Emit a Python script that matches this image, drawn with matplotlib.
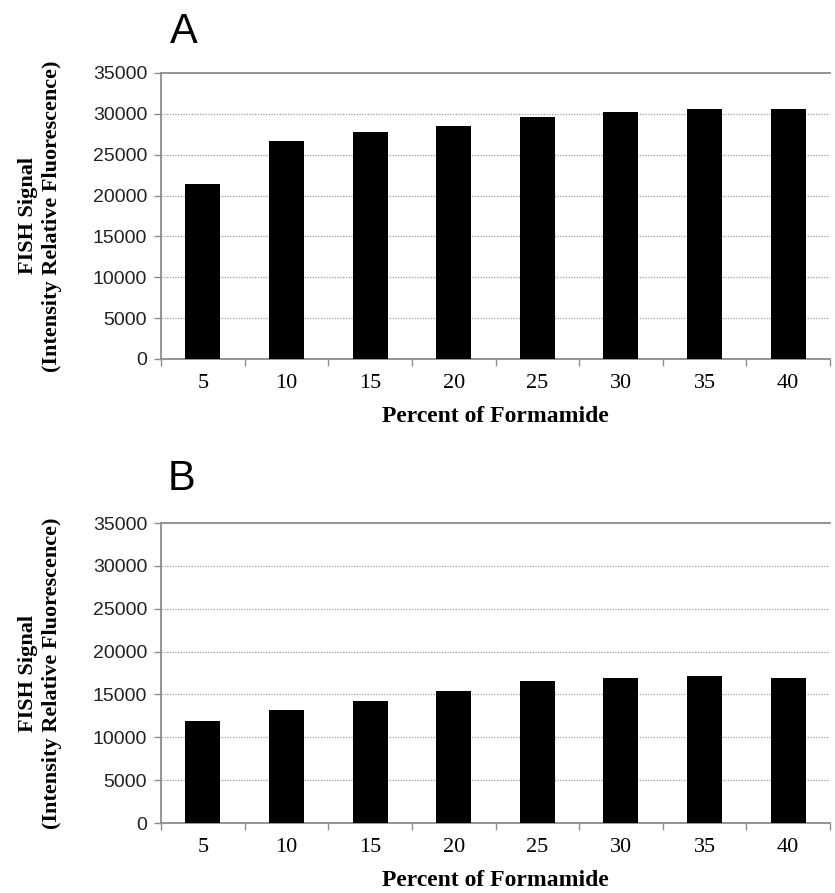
import numpy as np
import matplotlib
matplotlib.use('Agg')
import matplotlib.pyplot as plt

# Datos
formamida = ['5', '10', '15', '20', '25', '30', '35', '40']
senal_a = [21400, 26650, 27800, 28550, 29650, 30200, 30600, 30600]
senal_b = [11900, 13150, 14270, 15360, 16600, 16960, 17200, 16960]
yticks = [0, 5000, 10000, 15000, 20000, 25000, 30000, 35000]

GRIS = '#8c8c8c'
W, H = 835, 893

fig = plt.figure(figsize=(W / 100, H / 100), dpi=100)
fig.patch.set_facecolor('white')


def panel(rect, valores, letra, letra_xy):
    ax = fig.add_axes(rect)
    x = np.arange(len(formamida))
    ax.bar(x, valores, width=0.42, color='black', zorder=3)
    ax.set_xlim(-0.5, len(formamida) - 0.5)
    ax.set_ylim(0, 35000)
    ax.set_yticks(yticks)
    ax.set_yticklabels([str(v) for v in yticks], family='Liberation Sans', fontsize=14, color='#222222')
    for v in yticks[1:-1]:
        ax.axhline(v, color='#9a9a9a', lw=0.9, ls=(0, (1, 1.2)), zorder=1)
    # marcas del eje x entre categorias
    ax.set_xticks(np.arange(len(formamida) + 1) - 0.5)
    ax.set_xticklabels([])
    ax.set_xticks(x, minor=True)
    ax.set_xticklabels(formamida, minor=True, family='Liberation Serif', fontsize=16)
    ax.tick_params(axis='x', which='minor', length=0, pad=11)
    ax.tick_params(axis='x', which='major', length=5, color=GRIS, width=1)
    ax.tick_params(axis='y', length=5, color=GRIS, width=1, pad=5)
    for s in ['left', 'bottom', 'top']:
        ax.spines[s].set_color(GRIS)
        ax.spines[s].set_linewidth(1.3)
    ax.spines['right'].set_visible(False)
    ax.set_xlabel('Percent of Formamide', family='Liberation Serif', fontweight='bold', fontsize=17, labelpad=9)
    ax.set_ylabel('FISH Signal\n(Intensity Relative Fluorescence)', family='Liberation Serif',
                  fontweight='bold', fontsize=16, labelpad=22, linespacing=1.3)
    fig.text(letra_xy[0] / W, 1 - letra_xy[1] / H, letra, family='Liberation Sans', fontsize=30,
             ha='left', va='baseline')
    return ax


panel([161/W, 1 - 359/H, 669/W, 286/H], senal_a, 'A', (170, 43))
panel([161/W, 1 - 823/H, 669/W, 300/H], senal_b, 'B', (168, 490))

plt.savefig('out.png', dpi=100, facecolor='white')
plt.close()
